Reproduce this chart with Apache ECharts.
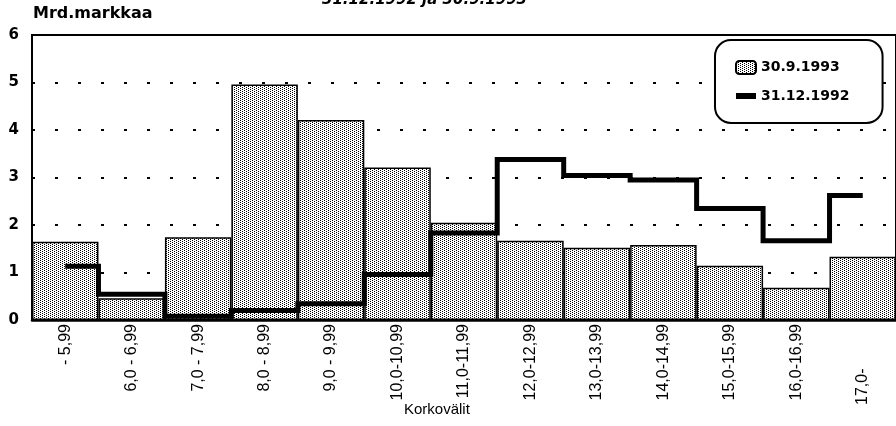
<!DOCTYPE html>
<html>
<head>
<meta charset="utf-8">
<script src="https://cdn.jsdelivr.net/npm/echarts@6/dist/echarts.min.js"></script>
<style>html,body{margin:0;padding:0;background:#fff;}#c{width:896px;height:426px;}</style>
</head>
<body>
<div id="c"></div>
<script>
const categories = ['- 5,99','6,0 - 6,99','7,0 - 7,99','8,0 - 8,99','9,0 - 9,99','10,0-10,99','11,0-11,99','12,0-12,99','13,0-13,99','14,0-14,99','15,0-15,99','16,0-16,99','17,0-'];
const values1993 = [1.65, 0.46, 1.74, 4.96, 4.21, 3.21, 2.05, 1.67, 1.52, 1.58, 1.14, 0.68, 1.33];
const values1992 = [1.13, 0.54, 0.08, 0.2, 0.34, 0.96, 1.83, 3.38, 3.04, 2.95, 2.35, 1.67, 2.62];
const yTicks = [0, 1, 2, 3, 4, 5, 6];
const seriesNames = ['30.9.1993', '31.12.1992'];

// stipple pattern (staggered dots)
const tile = document.createElement('canvas');
tile.width = 4; tile.height = 2;
const tctx = tile.getContext('2d');
tctx.fillStyle = '#ffffff'; tctx.fillRect(0, 0, 4, 2);
tctx.fillStyle = '#000000';
[[0,0],[2,1]].forEach(p => tctx.fillRect(p[0], p[1], 1, 1));

const chart = echarts.init(document.getElementById('c'), null, {renderer: 'canvas'});
chart.setOption({
  animation: false,
  backgroundColor: '#ffffff',
  title: [
    {text: 'Mrd.markkaa', left: 33, top: 6, padding: 0,
     textStyle: {fontFamily: 'DejaVu Sans', fontWeight: 'bold', fontSize: 16, color: '#000'}},
    {text: '31.12.1992 ja 30.9.1993', left: 322, top: -7, padding: 0,
     textStyle: {fontFamily: 'DejaVu Sans', fontStyle: 'italic', fontWeight: 'bold', fontSize: 15, color: '#000'}},
    {text: 'Korkovälit', left: 404, top: 402, padding: 0,
     textStyle: {fontFamily: 'Liberation Sans', fontWeight: 'normal', fontSize: 15, color: '#000'}}
  ],
  grid: {left: 32, top: 35, right: -7, bottom: 106, show: true, borderColor: '#000', borderWidth: 2, backgroundColor: 'transparent'},
  legend: {
    orient: 'vertical', left: 715, top: 40,
    itemWidth: 20, itemHeight: 13, itemGap: 14,
    padding: [20, 33, 20, 20],
    borderColor: '#000', borderWidth: 2, borderRadius: 16, backgroundColor: '#fff',
    textStyle: {fontFamily: 'DejaVu Sans', fontWeight: 'bold', fontSize: 14, color: '#000'},
    data: [
      {name: seriesNames[0]},
      {name: seriesNames[1], icon: 'path://M0,0L0,0M0,3.5L20,3.5L20,9.5L0,9.5ZM20,13L20,13', itemStyle: {borderWidth: 0, color: '#000'}}
    ]
  },
  xAxis: {
    type: 'category', data: categories, boundaryGap: true,
    axisLine: {show: true, lineStyle: {color: '#000', width: 2.5}},
    axisTick: {show: false},
    axisLabel: {
      rotate: 90, margin: 4, interval: 0,
      fontFamily: 'Liberation Sans', fontSize: 16, color: '#000',
      formatter: v => v === '17,0-' ? v + '          ' : v
    }
  },
  yAxis: {
    type: 'value', min: yTicks[0], max: yTicks[yTicks.length - 1], interval: 1,
    axisLine: {show: true, lineStyle: {color: '#000', width: 2}},
    axisTick: {show: false},
    axisLabel: {margin: 13, fontFamily: 'DejaVu Sans', fontWeight: 'bold', fontSize: 15, color: '#000'},
    splitLine: {show: true, lineStyle: {color: '#000', width: 2, type: [3, 20]}}
  },
  series: [
    {
      name: seriesNames[0], type: 'bar', data: values1993,
      barCategoryGap: '0%', barGap: '0%',
      itemStyle: {color: {image: tile, repeat: 'repeat'}, borderColor: '#000', borderWidth: 1.5},
      z: 2
    },
    {
      name: seriesNames[1], type: 'line', data: values1992, step: 'middle',
      symbol: 'none', showSymbol: false,
      lineStyle: {color: '#000', width: 5, cap: 'butt', join: 'miter'},
      itemStyle: {color: '#000'},
      z: 3
    }
  ]
});
</script>
</body>
</html>
